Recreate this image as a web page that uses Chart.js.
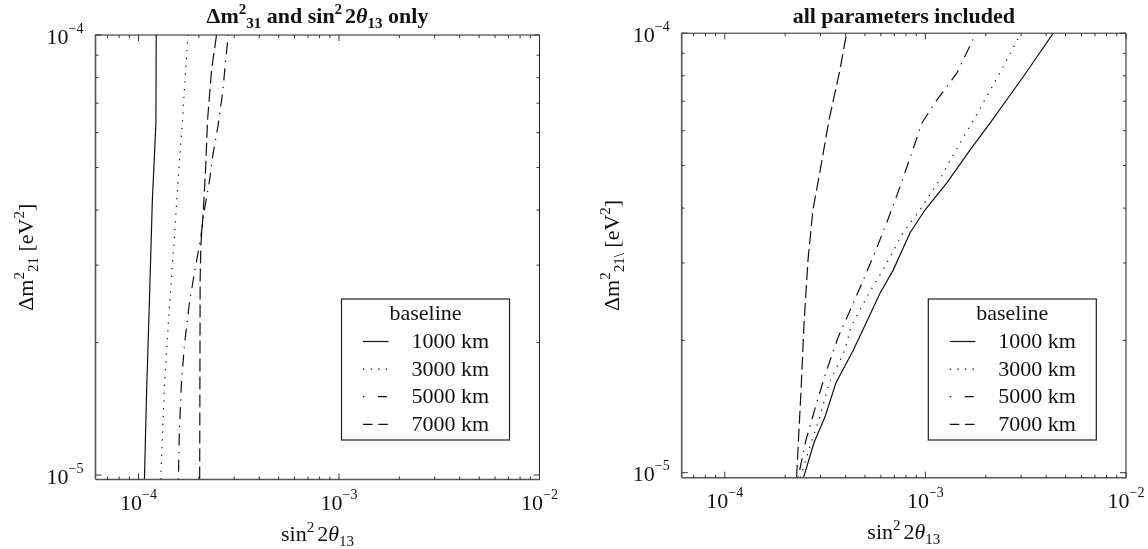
<!DOCTYPE html>
<html>
<head>
<meta charset="utf-8">
<script src="https://cdn.jsdelivr.net/npm/chart.js@4.4.1/dist/chart.umd.min.js"></script>
<style>
  html, body { margin: 0; padding: 0; background: #fff; }
  #wrap { position: relative; width: 1148px; height: 549px; overflow: hidden; }
  canvas { position: absolute; top: 0; }
  #cL { left: 0; }
  #cR { left: 574px; }
</style>
</head>
<body>
<div id="wrap">
  <canvas id="cL" width="574" height="549"></canvas>
  <canvas id="cR" width="574" height="549"></canvas>
</div>
<script>
// Sensitivity limit on sin^2(2θ13) as a function of Δm²21, one contour per baseline.
const baselines = ['1000 km', '3000 km', '5000 km', '7000 km'];

// Axis ranges and labelled decades
const xRange = [6.1e-5, 1e-2];
const yRangeLeft = [9.77e-6, 1e-4];
const yRangeRight = [9.74e-6, 1e-4];
const xDecades = [1e-4, 1e-3, 1e-2];
const yDecades = [1e-5, 1e-4];

// Left panel: only Δm²31 and sin²2θ13 varied
const dm21L_1000 = [9.77e-6, 1.477e-5, 2.49e-5, 4.21e-5, 6.3e-5, 1e-4];
const s13L_1000  = [1.070e-4, 1.094e-4, 1.133e-4, 1.172e-4, 1.221e-4, 1.225e-4];
const dm21L_3000 = [9.77e-6, 1.615e-5, 2.33e-5, 3.35e-5, 4.83e-5, 6.61e-5, 1e-4];
const s13L_3000  = [1.290e-4, 1.349e-4, 1.418e-4, 1.501e-4, 1.582e-4, 1.664e-4, 1.762e-4];
const dm21L_5000 = [9.77e-6, 1.230e-5, 1.615e-5, 1.97e-5, 2.46e-5, 2.92e-5, 3.42e-5, 4.06e-5, 4.61e-5, 5.39e-5, 6.24e-5, 7.38e-5, 1e-4];
const s13L_5000  = [1.580e-4, 1.596e-4, 1.636e-4, 1.693e-4, 1.793e-4, 1.910e-4, 2.034e-4, 2.142e-4, 2.25e-4, 2.356e-4, 2.495e-4, 2.625e-4, 2.799e-4];
const dm21L_7000 = [9.77e-6, 2.77e-5, 3.33e-5, 3.94e-5, 4.93e-5, 6.41e-5, 8.32e-5, 1e-4];
const s13L_7000  = [2.018e-4, 2.029e-4, 2.046e-4, 2.101e-4, 2.159e-4, 2.209e-4, 2.313e-4, 2.449e-4];

// Right panel: all oscillation parameters included
const dm21R_1000 = [9.74e-6, 1.168e-5, 1.34e-5, 1.60e-5, 1.90e-5, 2.15e-5, 2.56e-5, 2.89e-5, 3.51e-5, 3.96e-5, 4.56e-5, 5.42e-5, 6.24e-5, 7.96e-5, 1e-4];
const s13R_1000  = [2.47e-4, 2.78e-4, 3.16e-4, 3.58e-4, 4.37e-4, 4.97e-4, 5.94e-4, 6.91e-4, 8.38e-4, 9.95e-4, 1.276e-3, 1.668e-3, 2.099e-3, 3.075e-3, 4.339e-3];
const dm21R_3000 = [9.74e-6, 1.168e-5, 1.34e-5, 1.60e-5, 1.90e-5, 2.15e-5, 2.56e-5, 2.89e-5, 3.51e-5, 3.96e-5, 4.56e-5, 5.42e-5, 6.25e-5, 7.82e-5, 1e-4];
const s13R_3000  = [2.38e-4, 2.69e-4, 2.98e-4, 3.31e-4, 3.97e-4, 4.26e-4, 5.23e-4, 6.14e-4, 7.73e-4, 9.39e-4, 1.151e-3, 1.42e-3, 1.707e-3, 2.247e-3, 2.995e-3];
const dm21R_5000 = [9.74e-6, 1.187e-5, 1.40e-5, 1.69e-5, 2.03e-5, 2.31e-5, 2.70e-5, 3.21e-5, 3.82e-5, 4.47e-5, 5.28e-5, 6.25e-5, 7.05e-5, 8.12e-5, 1e-4];
const s13R_5000  = [2.32e-4, 2.54e-4, 2.82e-4, 3.19e-4, 3.67e-4, 4.16e-4, 4.83e-4, 5.67e-4, 6.58e-4, 7.47e-4, 8.48e-4, 9.61e-4, 1.142e-3, 1.437e-3, 1.787e-3];
const dm21R_7000 = [9.74e-6, 1.187e-5, 1.54e-5, 2.23e-5, 3.05e-5, 3.96e-5, 5.01e-5, 6.35e-5, 8.25e-5, 1e-4];
const s13R_7000  = [2.28e-4, 2.33e-4, 2.40e-4, 2.49e-4, 2.60e-4, 2.75e-4, 3.02e-4, 3.31e-4, 3.75e-4, 4.05e-4];

// Line styles per baseline: solid, dotted, dash-dot, dashed (curves and legend swatches)
const dashes = [[], [1.3, 6.5], [1.3, 6.5, 12, 6.5], [13, 5]];
const swatchDashes = [[], [1.3, 6.3], [1.3, 13.7, 9, 20], [9.5, 5.8]];

const SERIF = '"Liberation Serif", "Times New Roman", serif';
const INK = '#111';

// ---- rich text (super/subscripts) ----
function R(t, o) { return Object.assign({ t: t, s: 22, dy: 0 }, o || {}); }
function sup(t, o) { return R(t, Object.assign({ s: 15, dy: -9 }, o || {})); }
function sub(t, o) { return R(t, Object.assign({ s: 15, dy: 5 }, o || {})); }
function fontOf(r) { return (r.it ? 'italic ' : '') + (r.b ? 'bold ' : '') + r.s + 'px ' + SERIF; }
function richWidth(ctx, runs) {
  let w = 0;
  for (const r of runs) { ctx.font = fontOf(r); w += ctx.measureText(r.t).width + (r.gap || 0); }
  return w;
}
function drawRich(ctx, runs, x, y, align) {
  const w = richWidth(ctx, runs);
  let cx = align === 'center' ? x - w / 2 : (align === 'right' ? x - w : x);
  ctx.textAlign = 'left';
  ctx.textBaseline = 'alphabetic';
  for (const r of runs) {
    ctx.font = fontOf(r);
    ctx.fillText(r.t, cx, y + r.dy);
    cx += ctx.measureText(r.t).width + (r.gap || 0);
  }
}
// decade labels: 10 with a raised exponent
function powLabel(v) {
  const e = Math.round(Math.log10(v));
  return [R('10'), sup((e < 0 ? '\u2212' : '') + Math.abs(e), { s: 14, dy: -11 })];
}

function logTicks(lo, hi) {
  const out = [];
  for (let e = Math.floor(Math.log10(lo)); e <= Math.ceil(Math.log10(hi)); e++) {
    for (let k = 1; k <= 9; k++) {
      const v = k * Math.pow(10, e);
      if (v >= lo * 0.9999 && v <= hi * 1.0001) out.push({ v: v, major: k === 1 });
    }
  }
  return out;
}

function seg(ctx, x1, y1, x2, y2) { ctx.beginPath(); ctx.moveTo(x1, y1); ctx.lineTo(x2, y2); ctx.stroke(); }

// ---- frame, ticks, labels, titles and boxed legend ----
const panelDecor = {
  id: 'panelDecor',
  afterDatasetsDraw(chart, args, opts) {
    const ctx = chart.ctx;
    const a = chart.chartArea;
    const xs = chart.scales.x, ys = chart.scales.y;
    ctx.save();
    ctx.fillStyle = INK;
    ctx.setLineDash([]);

    // frame: heavier grey left/bottom, thin dark top/right
    ctx.strokeStyle = '#222';
    ctx.lineWidth = 1;
    seg(ctx, a.left, a.top, a.right, a.top);
    seg(ctx, a.right, a.top, a.right, a.bottom);
    ctx.strokeStyle = '#555';
    ctx.lineWidth = 1.6;
    seg(ctx, a.left, a.top - 0.5, a.left, a.bottom);
    seg(ctx, a.left, a.bottom, a.right + 0.5, a.bottom);

    // inward ticks on all four sides
    ctx.lineWidth = 1;
    ctx.strokeStyle = '#333';
    ctx.beginPath();
    for (const t of logTicks(xs.min, xs.max)) {
      const p = xs.getPixelForValue(t.v);
      const L = t.major ? 6 : 3;
      ctx.moveTo(p, a.bottom); ctx.lineTo(p, a.bottom - L);
      ctx.moveTo(p, a.top); ctx.lineTo(p, a.top + L);
    }
    for (const t of logTicks(ys.min, ys.max)) {
      const p = ys.getPixelForValue(t.v);
      const L = t.major ? 6 : 3;
      ctx.moveTo(a.left, p); ctx.lineTo(a.left + L, p);
      ctx.moveTo(a.right, p); ctx.lineTo(a.right - L, p);
    }
    ctx.stroke();

    // tick labels
    for (const v of xDecades) {
      drawRich(ctx, powLabel(v), xs.getPixelForValue(v), a.bottom + 30.5, 'center');
    }
    for (const v of yDecades) {
      drawRich(ctx, powLabel(v), a.left - 12, ys.getPixelForValue(v) + 8.5, 'right');
    }

    // titles
    const cx = (a.left + a.right) / 2;
    drawRich(ctx, opts.title, cx, opts.titleY, 'center');
    drawRich(ctx, opts.xTitle, cx, a.bottom + 61, 'center');
    ctx.save();
    ctx.translate(a.left - 62.5, (a.top + a.bottom) / 2);
    ctx.rotate(-Math.PI / 2);
    drawRich(ctx, opts.yTitle, 0, 0, 'center');
    ctx.restore();

    // legend box
    const lg = opts.legend;
    ctx.strokeStyle = '#222';
    ctx.lineWidth = 1.2;
    ctx.strokeRect(lg.x, lg.y, lg.w, lg.h);
    ctx.font = '22px ' + SERIF;
    ctx.textAlign = 'center';
    ctx.textBaseline = 'middle';
    ctx.fillText('baseline', lg.x + lg.w / 2, lg.y + 15);
    chart.data.datasets.forEach((ds, i) => {
      const yy = lg.y + 42.5 + i * 27.6;
      ctx.strokeStyle = ds.borderColor;
      ctx.lineWidth = ds.borderWidth;
      ctx.setLineDash(swatchDashes[i]);
      seg(ctx, lg.x + 21.5, yy, lg.x + 47, yy);
      ctx.setLineDash([]);
      ctx.font = '22px ' + SERIF;
      ctx.textAlign = 'left';
      ctx.textBaseline = 'middle';
      ctx.fillText(ds.label, lg.x + 70, yy + 1);
    });
    ctx.restore();
  }
};

function series(xv, yv) { return xv.map((x, i) => ({ x: x, y: yv[i] })); }

function makeDatasets(groups) {
  return groups.map((g, i) => ({
    label: baselines[i],
    data: series(g[0], g[1]),
    showLine: true,
    fill: false,
    borderColor: INK,
    borderWidth: 1.2,
    borderDash: dashes[i],
    pointRadius: 0,
    tension: 0
  }));
}

function makeChart(id, groups, yRange, pad, decor) {
  return new Chart(document.getElementById(id), {
    type: 'scatter',
    data: { datasets: makeDatasets(groups) },
    plugins: [panelDecor],
    options: {
      responsive: false,
      devicePixelRatio: 1,
      animation: false,
      events: [],
      layout: { padding: pad },
      plugins: {
        legend: { display: false },
        tooltip: { enabled: false },
        title: { display: false },
        panelDecor: decor
      },
      scales: {
        x: {
          type: 'logarithmic', min: xRange[0], max: xRange[1],
          grid: { display: false }, border: { display: false },
          ticks: { display: false },
          afterFit(s) { s.height = 0; }
        },
        y: {
          type: 'logarithmic', min: yRange[0], max: yRange[1],
          grid: { display: false }, border: { display: false },
          ticks: { display: false },
          afterFit(s) { s.width = 0; }
        }
      }
    }
  });
}

const xTitleRuns = [R('sin'), sup('2', { gap: 3 }), R('2'), R('\u03b8', { it: true }), sub('13')];

makeChart('cL', [
  [s13L_1000, dm21L_1000], [s13L_3000, dm21L_3000], [s13L_5000, dm21L_5000], [s13L_7000, dm21L_7000]
], yRangeLeft, { left: 95.5, top: 35, right: 34.5, bottom: 69.5 }, {
  title: [R('\u0394m', { b: true }), sup('2', { b: true }), sub('31', { b: true }), R(' and sin', { b: true }),
          sup('2', { b: true, gap: 3 }), R('2', { b: true }), R('\u03b8', { b: true, it: true }), sub('13', { b: true }), R(' only', { b: true })],
  titleY: 23,
  xTitle: xTitleRuns,
  yTitle: [R('\u0394m'), sup('2'), sub('21'), R(' [eV'), sup('2'), R(']')],
  legend: { x: 341.5, y: 299, w: 168, h: 141 }
});

makeChart('cR', [
  [s13R_1000, dm21R_1000], [s13R_3000, dm21R_3000], [s13R_5000, dm21R_5000], [s13R_7000, dm21R_7000]
], yRangeRight, { left: 107.7, top: 33.2, right: 22, bottom: 71.3 }, {
  title: [R('all parameters included', { b: true })],
  titleY: 23,
  xTitle: xTitleRuns,
  yTitle: [R('\u0394m'), sup('2'), sub('21\\'), R(' [eV'), sup('2'), R(']')],
  legend: { x: 354.3, y: 299, w: 168, h: 141 }
});
</script>
</body>
</html>
